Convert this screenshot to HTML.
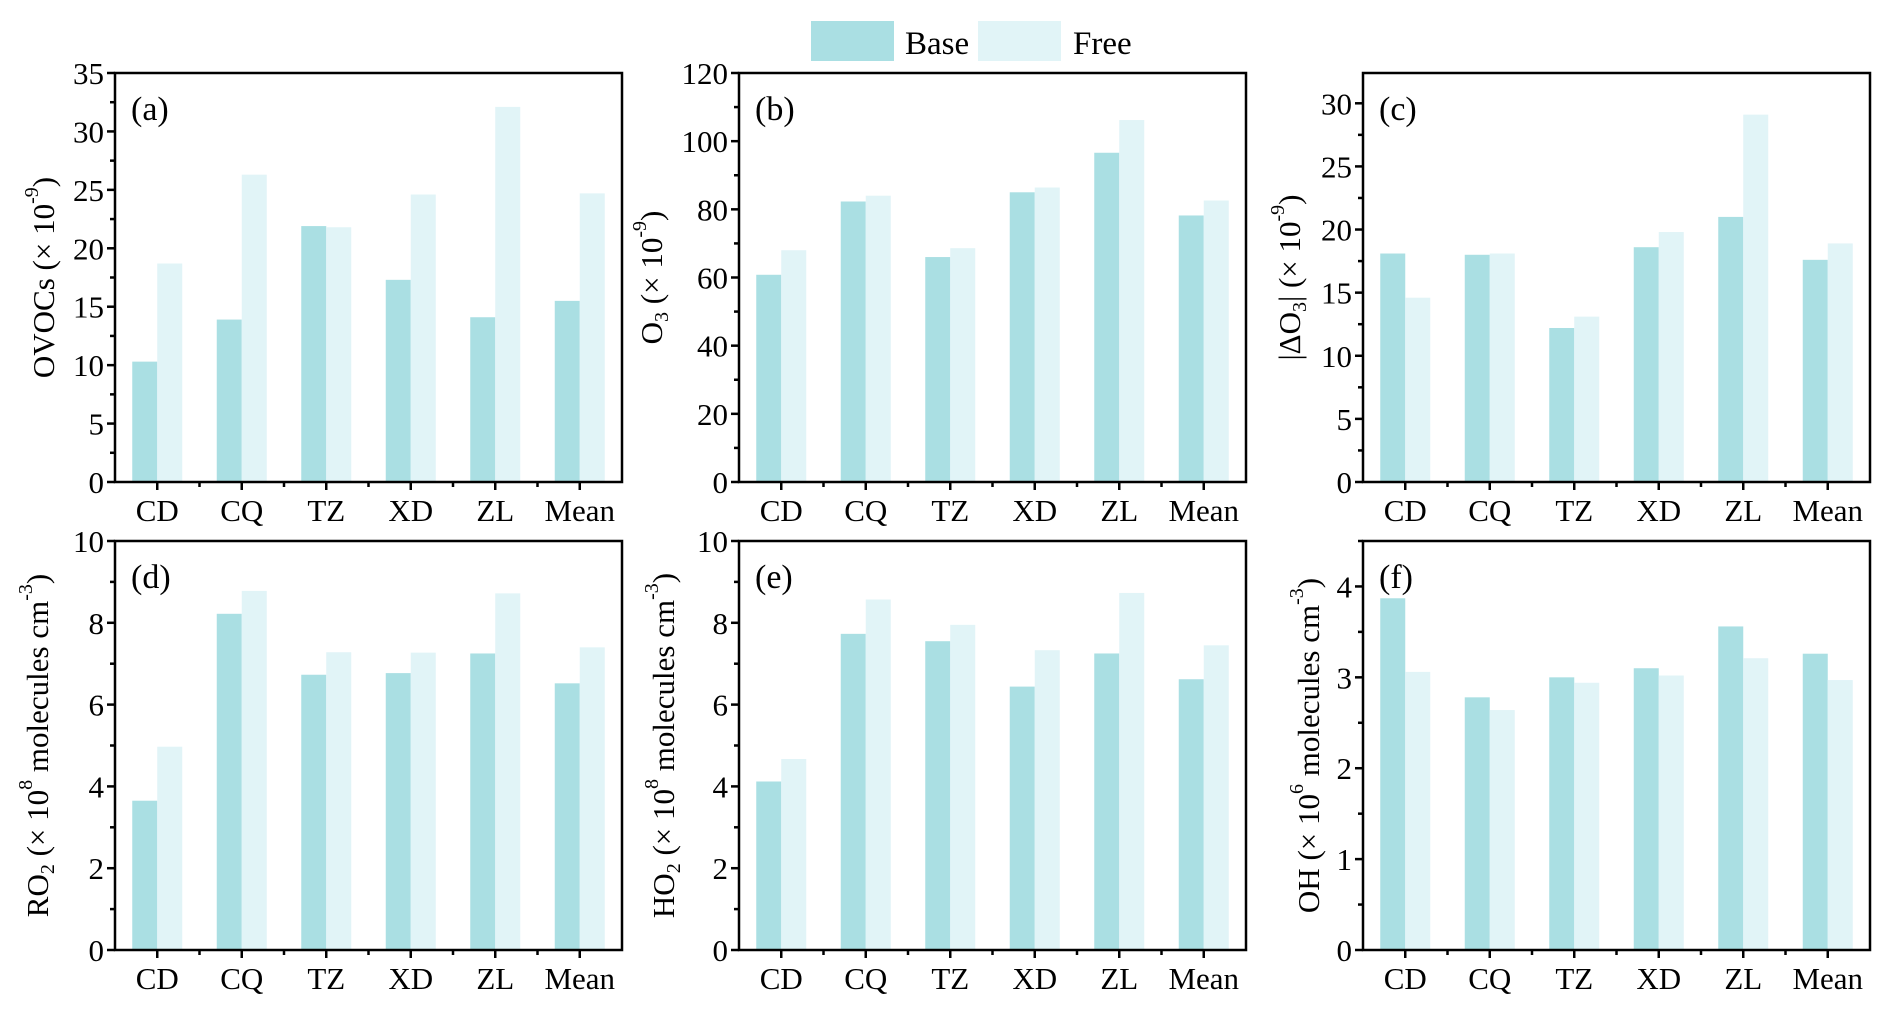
<!DOCTYPE html>
<html><head><meta charset="utf-8"><style>
html,body{margin:0;padding:0;background:#fff;}
svg{display:block;font-family:"Liberation Serif",serif;}
</style></head><body>
<svg id="fig" width="1892" height="1017" xmlns="http://www.w3.org/2000/svg">
<g>
<rect x="811" y="21" width="83" height="40" fill="#aadfe3"/>
<text x="905" y="54" font-size="33">Base</text>
<rect x="978" y="21" width="83" height="40" fill="#e1f4f7"/>
<text x="1073" y="54" font-size="33">Free</text>
</g>
</svg>
<script>
const categories = ["CD","CQ","TZ","XD","ZL","Mean"];
const ovocsBase = [10.3,13.9,21.9,17.3,14.1,15.5];
const ovocsFree = [18.7,26.3,21.8,24.6,32.1,24.7];
const o3Base = [60.8,82.3,66.0,85.0,96.6,78.2];
const o3Free = [68.0,84.0,68.6,86.4,106.2,82.6];
const dO3Base = [18.1,18.0,12.2,18.6,21.0,17.6];
const dO3Free = [14.6,18.1,13.1,19.8,29.1,18.9];
const ro2Base = [3.65,8.22,6.73,6.77,7.25,6.52];
const ro2Free = [4.97,8.78,7.28,7.27,8.72,7.40];
const ho2Base = [4.12,7.73,7.55,6.44,7.25,6.62];
const ho2Free = [4.67,8.57,7.95,7.33,8.73,7.45];
const ohBase = [3.87,2.78,3.00,3.10,3.56,3.26];
const ohFree = [3.06,2.64,2.94,3.02,3.21,2.97];
const ticksA = [0,5,10,15,20,25,30,35];
const ticksB = [0,20,40,60,80,100,120];
const ticksC = [0,5,10,15,20,25,30];
const ticksD = [0,2,4,6,8,10];
const ticksF = [0,1,2,3,4];

const NS="http://www.w3.org/2000/svg";
const svg=document.getElementById('fig');
function mk(tag,attrs,parent){const e=document.createElementNS(NS,tag);for(const k in attrs)e.setAttribute(k,attrs[k]);(parent||svg).appendChild(e);return e;}

const panels=[
 {id:'a',x:115,y:73,ymax:35,ticks:ticksA,minor:2.5,base:ovocsBase,free:ovocsFree,toff:72,title:[['OVOCs (× 10',''],['-9','sup'],[')','']]},
 {id:'b',x:739,y:73,ymax:120,ticks:ticksB,minor:10,base:o3Base,free:o3Free,toff:88,title:[['O',''],['3','sub'],[' (× 10',''],['-9','sup'],[')','']]},
 {id:'c',x:1363,y:73,ymax:32.4,ticks:ticksC,minor:2.5,base:dO3Base,free:dO3Free,toff:74,title:[['|ΔO',''],['3','sub'],['| (× 10',''],['-9','sup'],[')','']]},
 {id:'d',x:115,y:541,ymax:10,ticks:ticksD,minor:1,base:ro2Base,free:ro2Free,toff:78,title:[['RO',''],['2','sub'],[' (× 10',''],['8','sup'],[' molecules cm',''],['-3','sup'],[')','']]},
 {id:'e',x:739,y:541,ymax:10,ticks:ticksD,minor:1,base:ho2Base,free:ho2Free,toff:76,title:[['HO',''],['2','sub'],[' (× 10',''],['8','sup'],[' molecules cm',''],['-3','sup'],[')','']]},
 {id:'f',x:1363,y:541,ymax:4.5,ticks:ticksF,minor:0.5,base:ohBase,free:ohFree,toff:55,title:[['OH (× 10',''],['6','sup'],[' molecules cm',''],['-3','sup'],[')','']]}
];
const W=507,H=409,BW=25;
panels.forEach(p=>{
 const g=mk('g',{});
 
 
 const yS=v=>p.y+H-v/p.ymax*H;
 const xC=i=>p.x+(i+0.5)*W/categories.length;
 categories.forEach((c,i)=>{
  const b=mk('rect',{x:xC(i)-BW,y:yS(p.base[i]),width:BW,height:p.y+H-yS(p.base[i]),fill:'#aadfe3'},g);
  
  
  const f=mk('rect',{x:xC(i),y:yS(p.free[i]),width:BW,height:p.y+H-yS(p.free[i]),fill:'#e1f4f7'},g);
  
  
  const t=mk('line',{x1:xC(i),x2:xC(i),y1:p.y+H,y2:p.y+H+8,stroke:'#000','stroke-width':2.5},g);
  
  
  const bx=p.x+i*W/categories.length;
  if(i>0){const m=mk('line',{x1:bx,x2:bx,y1:p.y+H,y2:p.y+H+5,stroke:'#000','stroke-width':2.5},g);
  
  }
  const l=mk('text',{x:xC(i),y:p.y+H+39,'font-size':31,'text-anchor':'middle'},g);
  l.textContent=c;
  
  
 });
 for(let v=0;v<=p.ymax+1e-9;v+=p.minor){
  const major=p.ticks.some(t=>Math.abs(t-v)<1e-9);
  const t=mk('line',{x1:p.x-(major?8:5),x2:p.x,y1:yS(v),y2:yS(v),stroke:'#000','stroke-width':2.5},g);
  
  
 }
 p.ticks.forEach(v=>{
  const l=mk('text',{x:p.x-11,y:yS(v)+11,'font-size':31,'text-anchor':'end'},g);
  l.textContent=v;
  
  
 });
 const fr=mk('rect',{x:p.x,y:p.y,width:W,height:H,fill:'none',stroke:'#000','stroke-width':2.5},g);
 
 
 const pl=mk('text',{x:p.x+16,y:p.y+47,'font-size':34},g);
 pl.textContent='('+p.id+')';
 
 
 const cx=p.x-p.toff, cy=p.y+H/2;
 const tt=mk('text',{x:cx,y:cy,'font-size':31,'text-anchor':'middle','dominant-baseline':'central',transform:'rotate(-90 '+cx+' '+cy+')'},g);
 
 
 p.title.forEach(([s,k])=>{
  const ts=document.createElementNS(NS,'tspan');
  if(k==='sup'){ts.setAttribute('baseline-shift','super');ts.setAttribute('font-size','20');}
  if(k==='sub'){ts.setAttribute('baseline-shift','sub');ts.setAttribute('font-size','20');}
  ts.textContent=s;tt.appendChild(ts);
 });
});
</script>
</body></html>
